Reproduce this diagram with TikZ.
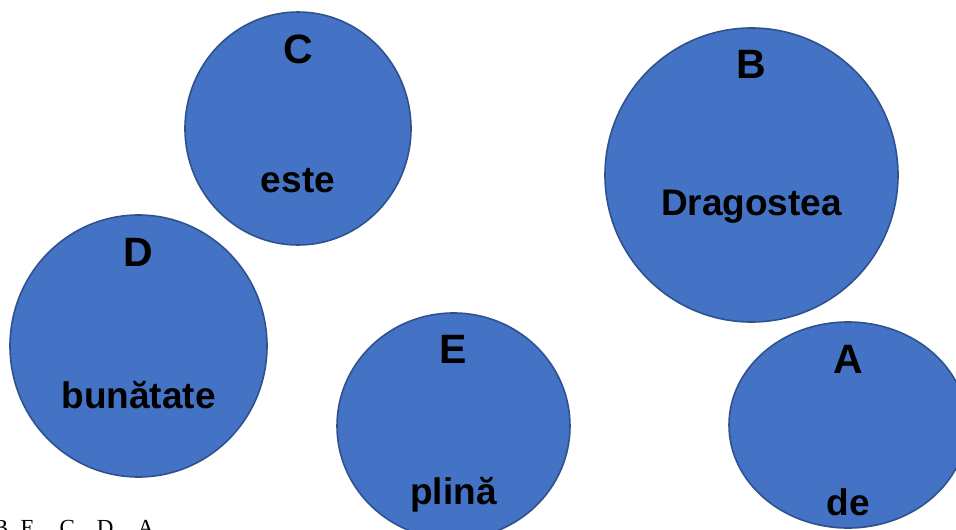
\documentclass[tikz,border=0pt]{standalone}
\usepackage{fontspec}
\setmainfont{Liberation Sans}
\newfontfamily\serifed{Liberation Serif}
\usetikzlibrary{shapes.geometric}
\definecolor{bubfill}{HTML}{4472C4}
\definecolor{bubline}{HTML}{2F528F}
\tikzset{
  bubble/.style={ellipse, draw=bubline, line width=1.6pt, fill=bubfill, inner sep=0pt},
  letterlab/.style={anchor=base, inner sep=0pt, font=\fontsize{41}{41}\selectfont\bfseries},
  wordlab/.style={anchor=base, inner sep=0pt, font=\fontsize{37}{37}\selectfont\bfseries},
}
\begin{document}
\begin{tikzpicture}[x=1pt,y=-1pt]
\useasboundingbox (0,0) rectangle (956,530);
\clip (0,0) rectangle (956,530);
\fill[white] (0,0) rectangle (956,530);
% bubbles
\node[bubble, minimum width=226pt, minimum height=233pt] (cC) at (298,128.5) {};
\node[bubble, minimum width=293pt, minimum height=294pt] (cB) at (751.5,175) {};
\node[bubble, minimum width=257pt, minimum height=262pt] (cD) at (138.5,346) {};
\node[bubble, minimum width=233pt, minimum height=226pt] (cE) at (453.5,426) {};
\node[bubble, minimum width=238pt, minimum height=206pt] (cA) at (848,425) {};
% labels
\node[letterlab] (lC) at (298,63) {C};
\node[wordlab] (wC) at (298,192) {este};
\node[letterlab] (lB) at (751.5,78) {B};
\node[wordlab] (wB) at (751.5,215) {Dragostea};
\node[letterlab] (lD) at (138.5,266) {D};
\node[wordlab] (wD) at (138.5,408) {bunătate};
\node[letterlab] (lE) at (453.5,363) {E};
\node[wordlab] (wE) at (453.5,504) {plină};
\node[letterlab] (lA) at (848,373) {A};
\node[wordlab] (wA) at (848,515) {de};
% bottom answer line
\node[anchor=base west, inner sep=0pt, font=\serifed\fontsize{23}{23}\selectfont] (ans) at (-7,535) {B\hspace{12pt}E\hspace{25pt}C\hspace{22pt}D\hspace{24pt}A};
\end{tikzpicture}
\end{document}
